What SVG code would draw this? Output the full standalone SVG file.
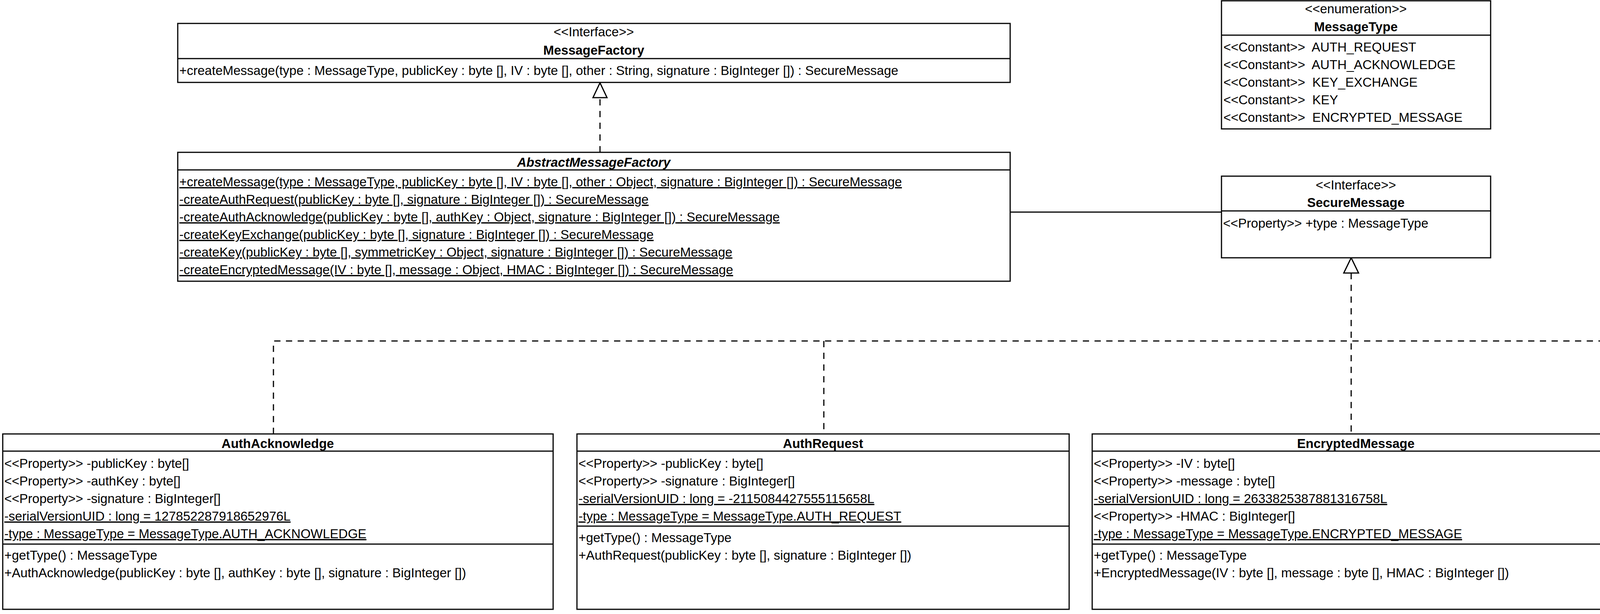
<svg xmlns="http://www.w3.org/2000/svg" width="6798" height="1572" viewBox="0 0 6798 1572">
<style>
.bg{fill:#fff}
.box{fill:#fff;stroke:#000;stroke-width:3}
.sep{stroke:#000;stroke-width:3}
.t{font-family:"Liberation Sans",Arial,Helvetica,sans-serif;font-size:33px;fill:#000}
.c{text-anchor:middle}
.b{font-weight:bold}
.i{font-style:italic}
.u{text-decoration:underline}
.conn{fill:none;stroke:#000;stroke-width:3}
.dash{stroke-dasharray:16 14}
.head{fill:#fff;stroke:#000;stroke-width:3;stroke-linejoin:miter}
</style>
<rect class="bg" x="0" y="0" width="6798" height="1572"/>

<g id="connectors">
  <path class="conn dash" d="M1536 390 V250"/>
  <polygon class="head" points="1536,212 1518,250 1554,250"/>
  <path class="conn" d="M2586 543 H3127"/>
  <path class="conn dash" d="M3459 699 V1111"/>
  <path class="conn dash" d="M700 1111 V873 H6129 V1111"/>
  <path class="conn dash" d="M2109 873 V1111"/>
  <path class="conn dash" d="M4808 873 V1111"/>
  <polygon class="head" points="3459,660 3440,699 3478,699"/>
</g>

<g id="MessageFactory">
  <rect class="box" x="455" y="60" width="2131" height="151"/>
  <line class="sep" x1="455" y1="150" x2="2586" y2="150"/>
  <text class="t c" x="1520" y="93">&lt;&lt;Interface&gt;&gt;</text>
  <text class="t c b" x="1520" y="140">MessageFactory</text>
  <text class="t" x="459" y="192">+createMessage(type : MessageType, publicKey : byte [], IV : byte [], other : String, signature : BigInteger []) : SecureMessage</text>
</g>

<g id="AbstractMessageFactory">
  <rect class="box" x="455" y="390" width="2131" height="330"/>
  <line class="sep" x1="455" y1="435" x2="2586" y2="435"/>
  <text class="t c b i" x="1520" y="427">AbstractMessageFactory</text>
  <text class="t u" x="459" y="477">+createMessage(type : MessageType, publicKey : byte [], IV : byte [], other : Object, signature : BigInteger []) : SecureMessage</text>
  <text class="t u" x="459" y="522">-createAuthRequest(publicKey : byte [], signature : BigInteger []) : SecureMessage</text>
  <text class="t u" x="459" y="567">-createAuthAcknowledge(publicKey : byte [], authKey : Object, signature : BigInteger []) : SecureMessage</text>
  <text class="t u" x="459" y="612">-createKeyExchange(publicKey : byte [], signature : BigInteger []) : SecureMessage</text>
  <text class="t u" x="459" y="657">-createKey(publicKey : byte [], symmetricKey : Object, signature : BigInteger []) : SecureMessage</text>
  <text class="t u" x="459" y="702">-createEncryptedMessage(IV : byte [], message : Object, HMAC : BigInteger []) : SecureMessage</text>
</g>

<g id="MessageType">
  <rect class="box" x="3127" y="2" width="689" height="328"/>
  <line class="sep" x1="3127" y1="90" x2="3816" y2="90"/>
  <text class="t c" x="3471" y="34">&lt;&lt;enumeration&gt;&gt;</text>
  <text class="t c b" x="3471" y="80">MessageType</text>
  <text class="t" x="3132" y="132" xml:space="preserve">&lt;&lt;Constant&gt;&gt;  AUTH_REQUEST</text>
  <text class="t" x="3132" y="177" xml:space="preserve">&lt;&lt;Constant&gt;&gt;  AUTH_ACKNOWLEDGE</text>
  <text class="t" x="3132" y="222" xml:space="preserve">&lt;&lt;Constant&gt;&gt;  KEY_EXCHANGE</text>
  <text class="t" x="3132" y="267" xml:space="preserve">&lt;&lt;Constant&gt;&gt;  KEY</text>
  <text class="t" x="3132" y="312" xml:space="preserve">&lt;&lt;Constant&gt;&gt;  ENCRYPTED_MESSAGE</text>
</g>

<g id="SecureMessage">
  <rect class="box" x="3127" y="451" width="689" height="209"/>
  <line class="sep" x1="3127" y1="540" x2="3816" y2="540"/>
  <text class="t c" x="3471" y="485">&lt;&lt;Interface&gt;&gt;</text>
  <text class="t c b" x="3471" y="530">SecureMessage</text>
  <text class="t" x="3131" y="583">&lt;&lt;Property&gt;&gt; +type : MessageType</text>
</g>

<g id="AuthAcknowledge">
  <rect class="box" x="7" y="1111" width="1409" height="449"/>
  <line class="sep" x1="7" y1="1155" x2="1416" y2="1155"/>
  <line class="sep" x1="7" y1="1393" x2="1416" y2="1393"/>
  <text class="t c b" x="711" y="1147">AuthAcknowledge</text>
  <text class="t" x="11" y="1198">&lt;&lt;Property&gt;&gt; -publicKey : byte[]</text>
  <text class="t" x="11" y="1243">&lt;&lt;Property&gt;&gt; -authKey : byte[]</text>
  <text class="t" x="11" y="1288">&lt;&lt;Property&gt;&gt; -signature : BigInteger[]</text>
  <text class="t u" x="11" y="1333">-serialVersionUID : long = 127852287918652976L</text>
  <text class="t u" x="11" y="1378">-type : MessageType = MessageType.AUTH_ACKNOWLEDGE</text>
  <text class="t" x="11" y="1433">+getType() : MessageType</text>
  <text class="t" x="11" y="1478">+AuthAcknowledge(publicKey : byte [], authKey : byte [], signature : BigInteger [])</text>
</g>

<g id="AuthRequest">
  <rect class="box" x="1477" y="1111" width="1260" height="449"/>
  <line class="sep" x1="1477" y1="1155" x2="2737" y2="1155"/>
  <line class="sep" x1="1477" y1="1347" x2="2737" y2="1347"/>
  <text class="t c b" x="2107" y="1147">AuthRequest</text>
  <text class="t" x="1481" y="1198">&lt;&lt;Property&gt;&gt; -publicKey : byte[]</text>
  <text class="t" x="1481" y="1243">&lt;&lt;Property&gt;&gt; -signature : BigInteger[]</text>
  <text class="t u" x="1481" y="1288">-serialVersionUID : long = -2115084427555115658L</text>
  <text class="t u" x="1481" y="1333">-type : MessageType = MessageType.AUTH_REQUEST</text>
  <text class="t" x="1481" y="1388">+getType() : MessageType</text>
  <text class="t" x="1481" y="1433">+AuthRequest(publicKey : byte [], signature : BigInteger [])</text>
</g>

<g id="EncryptedMessage">
  <rect class="box" x="2796" y="1111" width="1350" height="449"/>
  <line class="sep" x1="2796" y1="1155" x2="4146" y2="1155"/>
  <line class="sep" x1="2796" y1="1393" x2="4146" y2="1393"/>
  <text class="t c b" x="3471" y="1147">EncryptedMessage</text>
  <text class="t" x="2800" y="1198">&lt;&lt;Property&gt;&gt; -IV : byte[]</text>
  <text class="t" x="2800" y="1243">&lt;&lt;Property&gt;&gt; -message : byte[]</text>
  <text class="t u" x="2800" y="1288">-serialVersionUID : long = 2633825387881316758L</text>
  <text class="t" x="2800" y="1333">&lt;&lt;Property&gt;&gt; -HMAC : BigInteger[]</text>
  <text class="t u" x="2800" y="1378">-type : MessageType = MessageType.ENCRYPTED_MESSAGE</text>
  <text class="t" x="2800" y="1433">+getType() : MessageType</text>
  <text class="t" x="2800" y="1478">+EncryptedMessage(IV : byte [], message : byte [], HMAC : BigInteger [])</text>
</g>

<g id="Key">
  <rect class="box" x="4207" y="1111" width="1260" height="449"/>
  <line class="sep" x1="4207" y1="1155" x2="5467" y2="1155"/>
  <line class="sep" x1="4207" y1="1393" x2="5467" y2="1393"/>
  <text class="t c b" x="4837" y="1147">Key</text>
  <text class="t" x="4211" y="1198">&lt;&lt;Property&gt;&gt; -publicKey : byte[]</text>
  <text class="t" x="4211" y="1243">&lt;&lt;Property&gt;&gt; -symmetricKey : byte[]</text>
  <text class="t" x="4211" y="1288">&lt;&lt;Property&gt;&gt; -signature : BigInteger[]</text>
  <text class="t u" x="4211" y="1333">-serialVersionUID : long = 732736483964164972L</text>
  <text class="t u" x="4211" y="1378">-type : MessageType = MessageType.KEY</text>
  <text class="t" x="4211" y="1433">+getType() : MessageType</text>
  <text class="t" x="4211" y="1478">+Key(publicKey : byte [], symmetricKey : byte [], signature : BigInteger [])</text>
</g>

<g id="KeyExchange">
  <rect class="box" x="5526" y="1111" width="1259" height="449"/>
  <line class="sep" x1="5526" y1="1155" x2="6785" y2="1155"/>
  <line class="sep" x1="5526" y1="1347" x2="6785" y2="1347"/>
  <text class="t c b" x="6155" y="1147">KeyExchange</text>
  <text class="t" x="5530" y="1198">&lt;&lt;Property&gt;&gt; -publicKey : byte[]</text>
  <text class="t" x="5530" y="1243">&lt;&lt;Property&gt;&gt; -signature : BigInteger[]</text>
  <text class="t u" x="5530" y="1288">-serialVersionUID : long = 210478822717289658L</text>
  <text class="t u" x="5530" y="1333">-type : MessageType = MessageType.KEY_EXCHANGE</text>
  <text class="t" x="5530" y="1388">+getType() : MessageType</text>
  <text class="t" x="5530" y="1433">+KeyExchange(publicKey : byte [], signature : BigInteger [])</text>
</g>
</svg>
